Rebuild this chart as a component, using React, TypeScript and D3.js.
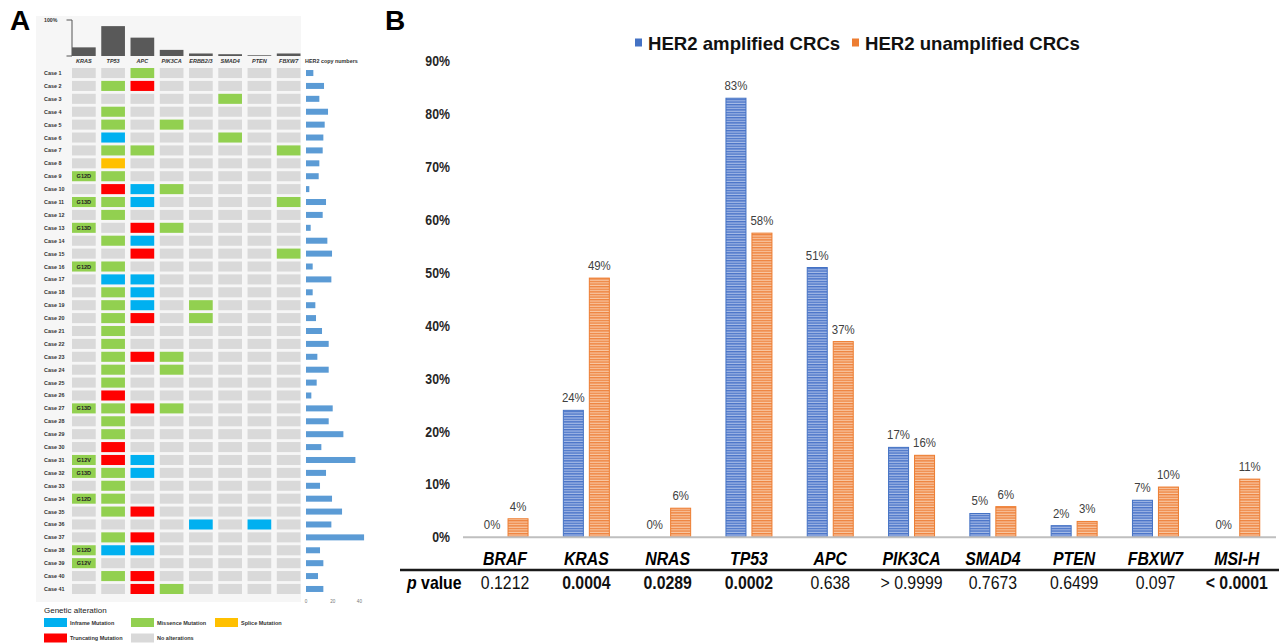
import React from "react";
import * as d3 from "d3";

// ---------- panel A data ----------
const genes = ["KRAS", "TP53", "APC", "PIK3CA", "ERBB2/3", "SMAD4", "PTEN", "FBXW7"];
const genePct = [24, 83, 51, 17, 7, 5, 2, 7];

const cases = [
  "Case 1", "Case 2", "Case 3", "Case 4", "Case 5", "Case 6", "Case 7", "Case 8", "Case 9", "Case 10",
  "Case 11", "Case 12", "Case 13", "Case 14", "Case 15", "Case 16", "Case 17", "Case 18", "Case 19", "Case 20",
  "Case 21", "Case 22", "Case 23", "Case 24", "Case 25", "Case 26", "Case 27", "Case 28", "Case 29", "Case 30",
  "Case 31", "Case 32", "Case 33", "Case 34", "Case 35", "Case 36", "Case 37", "Case 38", "Case 39", "Case 40",
  "Case 41",
];

// one char per gene: . none, M missense, T truncating, I inframe, S splice
const alterations = [
  "..M.....", ".MT.....", ".....M..", ".M......", ".M.M....", ".I...M..", ".MM....M", ".S......",
  "MM......", ".TIM....", "MMI....M", ".M......", "M.TM....", ".MI.....", "..T....M", "MM......",
  ".II.....", ".MI.....", ".MI.M...", ".MT.M...", ".M......", ".M......", ".MTM....", ".M.M....",
  ".M......", ".T......", "MMTM....", ".M......", ".M......", ".T......", "MTI.....", "MMI.....",
  ".M......", "MM......", ".MT.....", "....I.I.", ".MT.....", "MII.....", "M.......", ".MT.....",
  "..TM....",
];

const krasVariant: Record<string, string> = {
  "Case 9": "G12D", "Case 11": "G13D", "Case 13": "G13D", "Case 16": "G12D", "Case 27": "G13D",
  "Case 31": "G12V", "Case 32": "G13D", "Case 34": "G12D", "Case 38": "G12D", "Case 39": "G12V",
};

const her2Copies = [
  5.5, 13.5, 10, 16.5, 14, 13, 12.5, 10, 9.5, 2.5, 15, 12.5, 3.5, 16, 19.5, 5, 19, 5, 7, 7.5,
  12, 17, 8.5, 17, 8, 4, 20, 17, 28, 11.5, 37, 15, 10.5, 19.5, 27, 19, 43.5, 10.5, 13, 9, 13,
];
const her2Ticks = [0, 20, 40];

const altColor: Record<string, string> = {
  ".": "#d9d9d9", M: "#92d050", T: "#ff0000", I: "#00b0f0", S: "#ffc000",
};

// ---------- panel B data ----------
const categories = ["BRAF", "KRAS", "NRAS", "TP53", "APC", "PIK3CA", "SMAD4", "PTEN", "FBXW7", "MSI-H"];
const seriesNames = ["HER2 amplified CRCs", "HER2 unamplified CRCs"];
const amplified = [0, 24, 0, 83, 51, 17, 4.5, 2.2, 7, 0];
const unamplified = [3.5, 49, 5.5, 57.5, 37, 15.5, 5.8, 3, 9.5, 11];
const pValues = ["0.1212", "0.0004", "0.0289", "0.0002", "0.638", "> 0.9999", "0.7673", "0.6499", "0.097", "< 0.0001"];
const pBold = [false, true, true, true, false, false, false, false, false, true];
const yTicks = [0, 10, 20, 30, 40, 50, 60, 70, 80, 90];

const FONT = "'Liberation Sans', Arial, sans-serif";

const Narrow = ({ x, y, children, size, weight = "normal", italic = false, anchor = "middle", fill = "#000", sx = 0.88 }: any) => (
  <text
    transform={`translate(${x},${y}) scale(${sx},1)`}
    textAnchor={anchor}
    fontSize={size}
    fontWeight={weight}
    fontStyle={italic ? "italic" : "normal"}
    fill={fill}
  >
    {children}
  </text>
);

const PanelA = () => {
  const xGene = d3.scaleBand().domain(genes).range([72, 300.5]).paddingInner(0.19);
  const yCase = d3.scaleBand().domain(cases).range([68, 594]).paddingInner(0.22);
  const yTop = d3.scaleLinear().domain([0, 100]).range([56, 20]);
  const xHer2 = d3.scaleLinear().domain([0, 40]).range([306, 359.4]);
  const bw = xGene.bandwidth();
  const bh = yCase.bandwidth();

  const legend = [
    { label: "Inframe Mutation", c: "I", x: 44, y: 618 },
    { label: "Missence Mutation", c: "M", x: 131, y: 618 },
    { label: "Splice Mutation", c: "S", x: 215, y: 618 },
    { label: "Truncating Mutation", c: "T", x: 44, y: 633.5 },
    { label: "No alterations", c: ".", x: 131, y: 633.5 },
  ];

  return (
    <g fontFamily={FONT}>
      <text x={10} y={30} fontSize={28} fontWeight="bold">A</text>
      <rect x={36} y={16} width={265} height={586} fill="#f6f6f6" />

      {/* top frequency bars */}
      <path d={`M66.5,${yTop(100)}H72V${yTop(0)}H66.5`} fill="none" stroke="#555" strokeWidth={1} />
      <text x={44} y={yTop(100) + 2} fontSize={5.2} fontWeight="bold" fill="#333">100%</text>
      {genes.map((g, i) => (
        <rect key={g} x={xGene(g)} y={yTop(genePct[i])} width={bw} height={yTop(0) - yTop(genePct[i])} fill="#595959" />
      ))}
      {genes.map((g) => (
        <text key={g} x={xGene(g)! + bw / 2} y={63.3} fontSize={5.5} fontWeight="bold" fontStyle="italic" textAnchor="middle" fill="#333">{g}</text>
      ))}
      <text x={305} y={63.3} fontSize={5.4} fontWeight="bold" fill="#333">HER2 copy numbers</text>

      {/* matrix */}
      {cases.map((c, r) => (
        <g key={c}>
          <text x={44} y={yCase(c)! + bh / 2 + 2} fontSize={5.4} fontWeight="bold" fill="#333">{c}</text>
          {genes.map((g, k) => (
            <rect key={g} x={xGene(g)} y={yCase(c)} width={bw} height={bh} fill={altColor[alterations[r][k]]} />
          ))}
          {krasVariant[c] && (
            <text x={xGene("KRAS")! + bw / 2} y={yCase(c)! + bh / 2 + 2} fontSize={5.6} fontWeight="bold" textAnchor="middle" fill="#222">{krasVariant[c]}</text>
          )}
          <rect x={xHer2(0)} y={yCase(c)! + bh / 2 - 3} width={xHer2(her2Copies[r]) - xHer2(0)} height={6} fill="#5b9bd5" />
        </g>
      ))}
      {her2Ticks.map((t) => (
        <text key={t} x={xHer2(t)} y={602.5} fontSize={4.6} textAnchor="middle" fill="#777">{t}</text>
      ))}

      {/* legend */}
      <text x={44} y={613} fontSize={8} fill="#222">Genetic alteration</text>
      {legend.map((l) => (
        <g key={l.label}>
          <rect x={l.x} y={l.y} width={23} height={9} fill={altColor[l.c]} />
          <text x={l.x + 26} y={l.y + 6.5} fontSize={5.5} fontWeight="bold" fill="#333">{l.label}</text>
        </g>
      ))}
    </g>
  );
};

const PanelB = () => {
  const x = d3.scaleBand().domain(categories).range([464.4, 1277.4]);
  const y = d3.scaleLinear().domain([0, 90]).range([537.3, 61.2]);
  const half = x.bandwidth() / 2;
  const xSub = d3.scaleBand().domain(seriesNames).range([half - 23, half + 23]).paddingInner(0.23);
  const sw = xSub.bandwidth();
  const series = [
    { name: seriesNames[0], values: amplified, fill: "url(#stripeBlue)", stroke: "#4472c4" },
    { name: seriesNames[1], values: unamplified, fill: "url(#stripeOrange)", stroke: "#ed7d31" },
  ];

  return (
    <g fontFamily={FONT}>
      <defs>
        <pattern id="stripeBlue" width={4} height={2.6} patternUnits="userSpaceOnUse">
          <rect width={4} height={2.6} fill="#a9bde8" />
          <rect width={4} height={1.4} fill="#4a74c8" />
        </pattern>
        <pattern id="stripeOrange" width={4} height={2.6} patternUnits="userSpaceOnUse">
          <rect width={4} height={2.6} fill="#f9c9a6" />
          <rect width={4} height={1.4} fill="#ee8440" />
        </pattern>
      </defs>
      <text x={385} y={30} fontSize={28} fontWeight="bold">B</text>

      {/* legend */}
      <rect x={635} y={38.5} width={7} height={8} fill="#4472c4" />
      <text x={648} y={50} fontSize={18.6} fontWeight="bold" fill="#111">{seriesNames[0]}</text>
      <rect x={852} y={38.5} width={7} height={8} fill="#ed7d31" />
      <text x={865} y={50} fontSize={18.6} fontWeight="bold" fill="#111">{seriesNames[1]}</text>

      {/* y axis labels */}
      {yTicks.map((t) => (
        <Narrow key={t} x={450} y={y(t) + 5} size={14} weight="bold" anchor="end" fill="#262626">{`${t}%`}</Narrow>
      ))}

      {/* bars */}
      {series.map((s) =>
        categories.map((c, i) => {
          const v = s.values[i];
          const bx = x(c)! + xSub(s.name)!;
          return (
            <g key={s.name + c}>
              {v > 0 && (
                <rect x={bx} y={y(v)} width={sw} height={y(0) - y(v)} fill={s.fill} stroke={s.stroke} strokeWidth={1} />
              )}
              <Narrow x={bx + sw / 2} y={y(v) - 8} size={13} fill="#404040">{`${Math.round(v)}%`}</Narrow>
            </g>
          );
        })
      )}
      <line x1={463} x2={1276} y1={y(0)} y2={y(0)} stroke="#bfbfbf" strokeWidth={2} />

      {/* category labels */}
      {categories.map((c) => (
        <Narrow key={c} x={x(c)! + half} y={565} size={18} weight="bold" italic>{c}</Narrow>
      ))}
      <line x1={400} x2={1279} y1={570} y2={570} stroke="#1a1a1a" strokeWidth={2.6} />

      {/* p values */}
      <text transform="translate(407,589) scale(0.88,1)" fontSize={18} fontWeight="bold">
        <tspan fontStyle="italic">p</tspan> value
      </text>
      {categories.map((c, i) => (
        <Narrow key={c} x={x(c)! + half} y={589} size={18} weight={pBold[i] ? "bold" : "normal"} fill="#111">{pValues[i]}</Narrow>
      ))}
    </g>
  );
};

export default function App() {
  return (
    <svg width={1281} height={643} style={{ position: "absolute", left: 0, top: 0, background: "#fff" }}>
      <PanelA />
      <PanelB />
    </svg>
  );
}
